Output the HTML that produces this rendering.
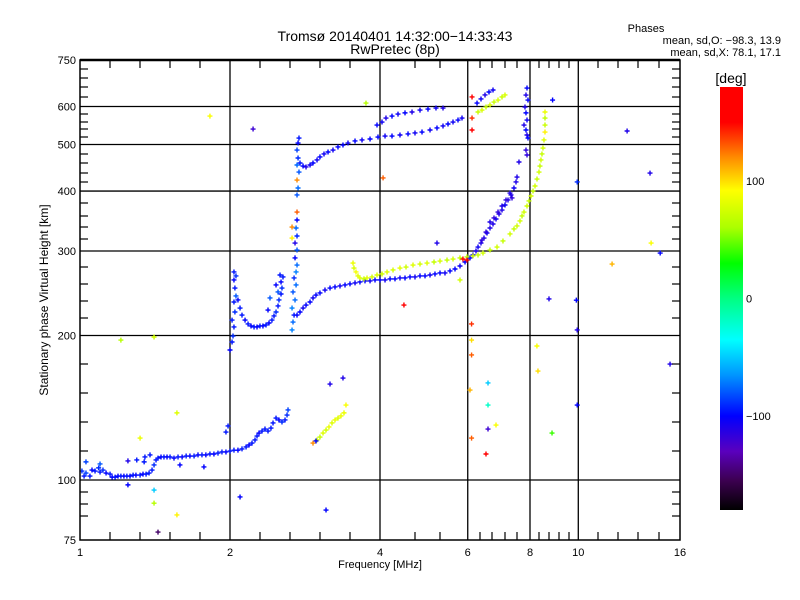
<!DOCTYPE html>
<html><head><meta charset="utf-8"><style>
body{margin:0;background:#fff;}
svg{display:block;font-family:"Liberation Sans",sans-serif;}
</style></head><body>
<svg id="chart" width="800" height="600" viewBox="0 0 800 600" xmlns="http://www.w3.org/2000/svg">
<rect width="800" height="600" fill="#fff"/>
<text x="395" y="41" font-size="14" text-anchor="middle">Tromsø 20140401 14:32:00−14:33:43</text>
<text x="395" y="54" font-size="14" text-anchor="middle">RwPretec (8p)</text>
<text x="646" y="32" font-size="11" text-anchor="middle">Phases</text>
<text x="781" y="44" font-size="11" text-anchor="end">mean, sd,O: −98.3, 13.9</text>
<text x="781" y="56" font-size="11" text-anchor="end">mean, sd,X:  78.1, 17.1</text>
<text x="380" y="568" font-size="11" text-anchor="middle">Frequency [MHz]</text>
<text transform="translate(48,300) rotate(-90)" font-size="12" text-anchor="middle">Stationary phase Virtual Height [km]</text>
<text x="731" y="83" font-size="14" text-anchor="middle">[deg]</text>
<g id="grid"></g>
<g id="marks"></g>
<g id="frame"></g>
<g id="cbar"></g>
</svg>
<script>
// ---------- data ----------
const xTickVals=[1,2,4,6,8,10,16];
const yTickVals=[75,100,200,300,400,500,600,750];
const cbTickVals=[100,0,-100];
// E layer
const eFreq=[1.009,1.019,1.028,1.047,1.057,1.072,1.097,1.112,1.128,1.149,1.160,1.176,1.192,1.208,1.225,1.242,1.260,1.278,1.295,1.320,1.338,1.357,1.376,1.395,1.408,1.421,1.434,1.454,1.474,1.495,1.516,1.544,1.573,1.603,1.633,1.662,1.694,1.725,1.757,1.789,1.823,1.857,1.892,1.927,1.963,2.000,2.037,2.075,2.114,2.154,2.184,2.214,2.245,2.266,2.287,2.319,2.351,2.384,2.417,2.440,2.474,2.508,2.543,2.579,2.603,2.615,1.248,1.300,1.345,1.350,1.382,1.963,1.982,1.097,1.028,1.587,1.773,1.090];
const eHeight=[104.4,101.9,103.4,101.9,104.9,104.4,103.9,104.9,103.4,102.9,101.4,101.4,101.9,101.9,101.9,101.9,101.9,102.4,102.4,102.4,102.9,102.9,103.4,104.9,107.5,110.1,111.1,111.7,111.7,111.7,111.7,111.1,111.7,111.7,112.2,112.2,112.2,112.8,112.8,112.8,113.3,113.3,113.8,114.4,114.4,114.9,115.4,115.4,116.1,117.2,118.3,119.4,121.2,123.5,125.3,126.5,127.7,126.5,128.3,131.5,134.6,133.4,132.1,133.4,136.6,140.0,109.6,110.1,109.1,111.7,112.8,125.9,129.6,108.0,109.1,107.5,106.5,106.0];
const ePhase=[-90,-95,-85,-95,-100,-95,-95,-90,-100,-95,-100,-95,-100,-95,-100,-95,-100,-95,-100,-95,-100,-95,-95,-95,-90,-95,-95,-100,-95,-100,-95,-100,-95,-100,-95,-100,-95,-100,-95,-100,-95,-100,-95,-95,-100,-95,-95,-100,-95,-95,-100,-95,-95,-95,-100,-95,-95,-95,-95,-95,-95,-100,-90,-95,-90,-85,-110,-95,-95,-95,-95,-95,-95,-80,-85,-100,-100,-90];
// sporadic E (yellow)
const esFreq=[2.935,2.990,3.031,3.074,3.117,3.160,3.204,3.249,3.294,3.340,3.387,3.418,2.976];
const esHeight=[119.4,121.2,122.9,125.3,127.1,129.0,131.5,133.4,134.6,136.0,138.0,143.3,120.6];
const esPhase=[120,75,70,80,75,85,80,85,80,85,85,90,-100];
// F1 lower trace, spikes and hook column
const f1Freq=[2.000,2.019,2.028,2.037,2.019,2.046,2.037,2.056,2.046,2.037,2.037,2.056,2.075,2.095,2.114,2.144,2.174,2.204,2.235,2.266,2.297,2.329,2.362,2.395,2.428,2.451,2.474,2.497,2.508,2.532,2.543,2.532,2.555,2.406,2.474,2.520,2.497,2.384,2.664,2.676,2.689,2.664,2.701,2.676,2.714,2.689,2.714,2.726,2.701,2.726,2.701,2.726,2.714,2.726,2.726,2.664,2.664,2.726,2.739,2.726,2.751,2.726,2.739,2.726,2.739,2.751];
const f1Height=[186.6,193.9,199.5,208.4,215.4,223.9,234.9,241.8,251.2,261.1,271.3,266.2,237.2,228.2,220.6,215.4,211.4,209.4,208.4,208.4,209.4,209.4,210.4,212.4,215.4,219.7,223.9,230.5,237.2,244.1,251.2,258.6,264.9,239.5,254.9,267.4,246.5,226.0,205.4,213.4,220.6,228.2,237.2,246.5,254.9,263.6,271.3,280.5,290.2,301.4,311.7,322.4,335.0,348.1,361.7,336.6,319.3,392.5,405.9,421.7,438.2,453.2,468.7,487.0,503.6,515.8];
const f1Phase=[-100,-95,-90,-95,-95,-90,-95,-80,-95,-100,-95,-90,-100,-95,-95,-100,-95,-100,-95,-100,-95,-100,-95,-100,-95,-95,-90,-95,-90,-95,-90,-100,-95,-80,-100,-95,-80,-100,-70,-75,-95,-70,-75,-80,-75,-90,-70,-75,-100,-80,-110,-90,-75,-100,130,120,95,-80,-75,120,-80,-75,-90,-85,-100,-95];
// F2 ordinary trace
const oFreq=[2.726,2.764,2.803,2.842,2.895,2.935,2.976,3.031,3.102,3.175,3.249,3.325,3.403,3.482,3.564,3.646,3.732,3.820,3.909,4.000,4.094,4.190,4.287,4.387,4.490,4.595,4.702,4.812,4.925,5.040,5.157,5.278,5.401,5.528,5.657,5.789,5.925,6.063,6.147,6.233,6.292,6.379,6.468,6.559,6.650,6.743,6.837,6.933,7.029,7.127,7.227,7.327,7.429,7.499,7.534,6.408,6.528,6.650,6.774,6.901,7.029,7.160,7.294,7.362,7.890,7.853,7.926,7.817,7.853,7.890,7.781,7.853,7.890,7.926,7.853,7.890,7.603];
const oHeight=[220.6,223.9,228.2,231.5,234.9,239.5,242.9,245.3,248.8,251.2,252.5,253.7,254.9,256.2,257.4,258.6,259.9,259.9,261.1,261.1,261.1,262.4,262.4,263.6,263.6,264.9,264.9,266.2,266.2,267.4,268.7,270.0,270.0,272.6,275.2,279.2,284.6,290.2,294.4,300.0,305.8,311.7,319.3,327.0,335.0,341.5,349.8,358.3,365.2,374.1,383.2,392.5,405.9,417.8,427.8,316.2,328.6,344.8,351.5,361.7,372.3,383.2,396.2,386.9,655.6,634.0,619.0,598.5,582.0,562.3,549.0,536.1,523.4,515.8,487.0,475.5,459.8];
const oPhase=[-100,-100,-105,-100,-100,-105,-100,-100,-105,-100,-100,-105,-100,-100,-105,-100,-100,-105,-100,-100,-105,-100,-100,-105,-100,-100,-105,-100,-100,-105,-100,-100,-105,-100,-100,-105,-100,-100,-105,-110,-105,-110,-110,-105,-110,-110,-105,-110,-110,-105,-110,-110,-105,-110,-110,-115,-115,-110,-115,-115,-110,-115,-110,-115,-100,-110,-100,-110,-100,-105,-110,-100,-110,-100,-115,-115,-110];
// F2 extraordinary trace
const xFreq=[3.531,3.547,3.580,3.613,3.646,3.714,3.767,3.855,3.945,4.037,4.132,4.248,4.387,4.511,4.659,4.812,4.971,5.134,5.278,5.452,5.605,5.789,5.979,6.147,6.292,6.438,6.650,6.869,7.061,7.294,7.429,7.534,7.638,7.710,7.781,7.890,7.963,8.037,8.112,8.187,8.263,8.340,8.377,8.416,8.455,8.494,8.534,8.574,8.574,8.574,8.574,5.869,5.979];
const xHeight=[283.2,276.5,271.3,266.2,263.6,262.4,263.6,264.9,267.4,268.7,271.3,273.9,276.5,277.8,280.5,281.8,283.2,284.6,285.9,287.3,288.7,290.2,291.6,293.0,294.4,297.1,301.4,305.8,314.8,325.6,333.5,338.4,346.5,354.9,361.7,372.3,381.4,390.6,400.0,409.8,423.7,438.2,451.0,464.3,477.9,491.7,511.0,530.9,549.0,567.8,584.4,288.7,287.3];
const xPhase=[85,78,88,82,80,70,82,76,80,74,80,76,82,74,80,75,80,70,76,70,75,70,66,75,70,75,70,75,70,75,70,75,75,70,75,75,70,75,70,75,70,75,70,75,70,75,80,95,72,68,85,150,170];
// second-hop echoes
const hopFreq=[2.764,2.803,2.842,2.895,2.935,2.990,3.031,3.088,3.146,3.219,3.294,3.371,3.450,3.564,3.681,3.820,3.963,4.094,4.228,4.387,4.553,4.702,4.857,5.040,5.205,5.352,5.477,5.605,5.736,5.843,3.945,4.037,4.112,4.228,4.347,4.490,4.638,4.812,4.993,5.181,5.352,6.263,6.379,6.498,6.619,6.743,6.292,6.408,6.528,6.650,6.774,6.901,7.029,7.127];
const hopHeight=[457.6,451.0,449.0,453.2,457.6,464.3,471.1,477.9,482.4,487.0,494.2,498.8,503.6,508.6,511.0,513.4,518.3,520.8,520.8,523.4,526.1,528.5,530.9,536.1,541.3,546.5,551.7,557.0,562.3,567.8,549.0,557.0,567.8,573.1,578.6,582.0,584.4,589.8,592.7,595.7,595.7,610.0,622.2,634.2,643.3,649.5,584.4,589.8,598.5,604.4,613.1,619.0,628.1,634.2];
const hopPhase=[-95,-100,-110,-105,-100,-105,-100,-105,-100,-105,-100,-100,-105,-100,-105,-100,-100,-105,-100,-105,-100,-105,-100,-105,-100,-105,-100,-105,-100,-105,-100,-105,-110,-100,-105,-100,-110,-105,-100,-105,-110,-100,-105,-110,-100,-105,72,78,72,78,72,78,72,78];
// isolated echoes
const sFreq=[1.823,2.225,3.749,4.057,4.468,5.205,5.789,6.107,6.107,6.107,6.063,6.107,6.589,6.589,6.589,6.528,6.837,8.300,8.260,8.857,8.734,9.910,9.950,9.950,9.950,11.69,12.53,13.93,14.60,14.00,15.28,8.880,1.208,1.408,1.320,1.565,1.248,1.408,1.408,1.565,1.434,2.095,3.117,3.175,3.371,6.120,6.120,6.120];
const sHeight=[573.1,538.6,610.0,426.0,231.5,311.7,261.1,211.4,195.7,182.2,154.0,122.3,159.3,143.3,127.7,113.3,130.2,168.7,190.2,125.3,238.4,237.0,143.3,205.4,417.8,281.8,533.5,436.0,297.1,311.7,174.4,619.0,195.7,198.6,122.3,138.0,97.7,95.3,89.5,84.6,77.9,92.2,86.6,158.5,163.1,628.1,567.8,536.1];
const sPhase=[90,-120,65,130,150,-110,75,140,100,130,110,130,-50,-20,-120,160,90,100,90,40,-110,-100,-100,-110,-90,110,-110,-110,-100,90,-110,-100,65,75,85,80,-100,-50,65,95,-150,-100,-100,-110,-110,150,140,160];

// ---------- axes ----------
const X0=80,X1=680,Y0=60,Y1=540;
function xs(f){return X0+(X1-X0)*Math.log2(f)/4;}
function ys(h){return Y1-(Y1-Y0)*Math.log10(h/75);}
const CB_T=87,CB_B=510;
function cy(p){return CB_B-(p+180)/360*(CB_B-CB_T);}
const stops=[[-180,[0,0,0]],[-155,[60,0,80]],[-130,[90,0,190]],[-100,[0,0,255]],[-65,[0,150,255]],[-35,[0,255,255]],[0,[0,255,130]],[30,[0,255,0]],[60,[170,255,0]],[92,[255,255,0]],[120,[255,140,0]],[150,[255,0,0]],[180,[255,0,0]]];
function col(p){
  p=Math.max(-180,Math.min(180,p));
  for(let i=0;i<stops.length-1;i++){const a=stops[i],b=stops[i+1];
    if(p<=b[0]){const t=(p-a[0])/(b[0]-a[0]);const c=a[1].map((v,k)=>Math.round(v+(b[1][k]-v)*t));return `rgb(${c[0]},${c[1]},${c[2]})`;}}
  return 'rgb(255,0,0)';
}
const NS="http://www.w3.org/2000/svg";
function mk(tag,attrs,parent){const e=document.createElementNS(NS,tag);for(const k in attrs)e.setAttribute(k,attrs[k]);parent.appendChild(e);return e;}
const grid=document.getElementById('grid'),marks=document.getElementById('marks'),frame=document.getElementById('frame'),cbar=document.getElementById('cbar');

xTickVals.forEach(v=>{
  const x=xs(v);
  if(v>1&&v<16){const l=mk('line',{x1:x,x2:x,y1:Y0,y2:Y1,stroke:'#000','stroke-width':1.3},grid);
    
    }
  const t=mk('text',{x:x,y:556,'font-size':11,'text-anchor':'middle'},frame);t.textContent=String(v);
  
  
});
yTickVals.forEach(v=>{
  const y=ys(v);
  if(v>75&&v<750){const l=mk('line',{x1:X0,x2:X1,y1:y,y2:y,stroke:'#000','stroke-width':1.3},grid);
    
    }
  const t=mk('text',{x:76,y:y+4,'font-size':11,'text-anchor':'end'},frame);t.textContent=String(v);
  
  
});
const xMinorPx=[110,140,170,200,260,290,320,350,415,440,480,492,505,517,539,549,559,569,598,618,638,659];
const yMinorPx=[69,78,87,97,114,122,129,137,154,163,173,182,203,216,227,239,267,284,301,318,364,393,422,451,492,504,516];
const tickG=mk('g',{stroke:'#000','stroke-width':1.2},frame);


xMinorPx.forEach(x=>{mk('line',{x1:x,x2:x,y1:Y1,y2:Y1-8},tickG);mk('line',{x1:x,x2:x,y1:Y0,y2:Y0+8},tickG);});
yMinorPx.forEach(y=>{mk('line',{x1:X0,x2:X0+8,y1:y,y2:y},tickG);mk('line',{x1:X1,x2:X1-8,y1:y,y2:y},tickG);});
const box=mk('rect',{x:X0,y:Y0,width:X1-X0,height:Y1-Y0,fill:'none',stroke:'#000','stroke-width':1.5},frame);


mk('line',{x1:X0,x2:X1,y1:Y0,y2:Y0,stroke:'#000','stroke-width':2.5},frame);

function plotSeries(F,H,P,name){
  const g=mk('g',{},marks);
  
  
  for(let i=0;i<F.length;i++){
    const x=xs(F[i]),y=ys(H[i]);
    if(x<X0||x>X1||y<Y0||y>Y1)continue;
    const p=mk('path',{d:`M${x-2.5},${y}h5M${x},${y-2.5}v5`,stroke:col(P[i]),'stroke-width':1.4,fill:'none'},g);
    
    
  }
}
plotSeries(eFreq,eHeight,ePhase,'e-layer-trace');
plotSeries(esFreq,esHeight,esPhase,'sporadic-e-trace');
plotSeries(f1Freq,f1Height,f1Phase,'f1-trace');
plotSeries(hopFreq,hopHeight,hopPhase,'second-hop-trace');
plotSeries(oFreq,oHeight,oPhase,'o-mode-trace');
plotSeries(xFreq,xHeight,xPhase,'x-mode-trace');
plotSeries(sFreq,sHeight,sPhase,'scatter-echo');

const defs=mk('defs',{},cbar);
const lg=mk('linearGradient',{id:'cbg',x1:0,y1:1,x2:0,y2:0},defs);
stops.forEach(s=>{mk('stop',{offset:((s[0]+180)/360).toFixed(4),'stop-color':col(s[0])},lg);});
const cb=mk('rect',{x:720,y:CB_T,width:23,height:CB_B-CB_T,fill:'url(#cbg)'},cbar);


cbTickVals.forEach(v=>{
  const t=mk('text',{x:746,y:cy(v)+4,'font-size':11},cbar);
  t.textContent=v<0?'−'+Math.abs(v):String(v);
  
  
});
</script>
</body></html>
